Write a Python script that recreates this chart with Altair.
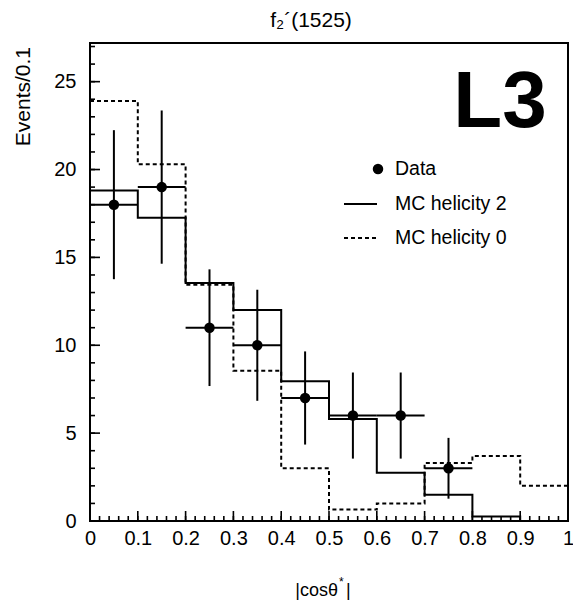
import altair as alt
import pandas as pd

# ---- data ----
bin_edges = [0.0, 0.1, 0.2, 0.3, 0.4, 0.5, 0.6, 0.7, 0.8, 0.9, 1.0]
mc_hel2 = [18.8, 17.25, 13.55, 12.0, 7.95, 5.8, 2.75, 1.5, 0.25, 0.0]
mc_hel0 = [23.9, 20.3, 13.45, 8.55, 3.0, 0.65, 1.0, 3.3, 3.7, 2.0]
data_x = [0.05, 0.15, 0.25, 0.35, 0.45, 0.55, 0.65, 0.75]
data_y = [18, 19, 11, 10, 7, 6, 6, 3]
data_err = [4.24, 4.36, 3.32, 3.16, 2.65, 2.45, 2.45, 1.73]
half_bin = 0.05

x_major = [0, 0.1, 0.2, 0.3, 0.4, 0.5, 0.6, 0.7, 0.8, 0.9, 1]
x_minor = [round(i * 0.02, 2) for i in range(51)]
y_major = [0, 5, 10, 15, 20, 25]
y_minor = list(range(0, 28))

W, H = 478, 478
FONT = "Liberation Sans"

h2 = pd.DataFrame({"x": bin_edges, "y": mc_hel2 + [mc_hel2[-1]]})
h0 = pd.DataFrame({"x": bin_edges, "y": mc_hel0 + [mc_hel0[-1]]})
pts = pd.DataFrame({"x": data_x, "y": data_y, "err": data_err})

xs = alt.Scale(domain=[0, 1], nice=False, zero=False)
ys = alt.Scale(domain=[0, 27.2], nice=False, zero=False)

ax_x = alt.Axis(values=x_major, ticks=False, domain=False, grid=False, labelPadding=7,
                format="~g", labelFontSize=20, labelFont=FONT, labelColor="black",
                labelFlush=False, title=None)
ax_y = alt.Axis(values=y_major, ticks=False, domain=False, grid=False, labelPadding=14,
                labelFontSize=20, labelFont=FONT, labelColor="black", labelFlush=False,
                title=None)

line2 = alt.Chart(h2).mark_line(interpolate="step-after", color="black", strokeWidth=2).encode(
    x=alt.X("x:Q", scale=xs, axis=ax_x),
    y=alt.Y("y:Q", scale=ys, axis=ax_y),
)
line0 = alt.Chart(h0).mark_line(interpolate="step-after", color="black", strokeWidth=2,
                                strokeDash=[4, 3]).encode(
    x=alt.X("x:Q", scale=xs, axis=ax_x),
    y=alt.Y("y:Q", scale=ys, axis=ax_y),
)

# inward axis ticks, positioned through the scales
def xticks(vals, length):
    return alt.Chart(pd.DataFrame({"t": vals})).mark_rule(color="black", strokeWidth=1.6).encode(
        x=alt.X("t:Q", scale=xs, axis=ax_x), y=alt.value(H), y2=alt.value(H - length))

def yticks(vals, length):
    return alt.Chart(pd.DataFrame({"t": vals})).mark_rule(color="black", strokeWidth=1.6).encode(
        y=alt.Y("t:Q", scale=ys, axis=ax_y), x=alt.value(0), x2=alt.value(length))

base_pts = alt.Chart(pts).transform_calculate(
    lo="datum.y - datum.err", hi="datum.y + datum.err",
    xl=f"datum.x - {half_bin}", xr=f"datum.x + {half_bin}",
)
vbar = base_pts.mark_rule(color="black", strokeWidth=2).encode(
    x=alt.X("x:Q", scale=xs, axis=ax_x),
    y=alt.Y("lo:Q", scale=ys, axis=ax_y), y2="hi:Q",
)
hbar = base_pts.mark_rule(color="black", strokeWidth=2).encode(
    x=alt.X("xl:Q", scale=xs, axis=ax_x), x2="xr:Q",
    y=alt.Y("y:Q", scale=ys, axis=ax_y),
)
dots = base_pts.mark_circle(color="black", opacity=1, size=110).encode(
    x=alt.X("x:Q", scale=xs, axis=ax_x),
    y=alt.Y("y:Q", scale=ys, axis=ax_y),
)

one = pd.DataFrame({"a": [0]})
def txt(text, x, y, size, **kw):
    return alt.Chart(one).mark_text(text=text, font=FONT, fontSize=size, color="black", **kw).encode(
        x=alt.value(x), y=alt.value(y))

title = txt("f\u2082\u00b4(1525)", 221, -22, 21, align="center", baseline="middle")
xtitle = txt("|cos\u03b8", 248, 548, 18, align="right", baseline="middle")
xstar = txt("*", 249, 539, 12, align="left", baseline="middle")
xbar = txt("|", 256, 548, 18, align="left", baseline="middle")
ytitle = txt("Events/0.1", -66, 4, 21, align="right", baseline="middle", angle=270)
l3 = txt("L3", 410, 84, 80, align="center", baseline="alphabetic", fontWeight="bold")

leg_dot = alt.Chart(one).mark_circle(color="black", opacity=1, size=110).encode(
    x=alt.value(288), y=alt.value(126))
leg_t1 = txt("Data", 305, 126, 19.5, align="left", baseline="middle")
leg_l2 = alt.Chart(one).mark_rule(color="black", strokeWidth=2).encode(
    x=alt.value(254), x2=alt.value(287), y=alt.value(161))
leg_t2 = txt("MC helicity 2", 305, 161, 19.5, align="left", baseline="middle")
leg_l0 = alt.Chart(one).mark_rule(color="black", strokeWidth=2, strokeDash=[4, 3]).encode(
    x=alt.value(254), x2=alt.value(287), y=alt.value(195))
leg_t0 = txt("MC helicity 0", 305, 195, 19.5, align="left", baseline="middle")

chart = alt.layer(
    line2, line0, xticks(x_minor, 5), xticks(x_major, 10), yticks(y_minor, 5),
    yticks(y_major, 10), vbar, hbar, dots, title, xtitle, xstar, xbar, ytitle, l3,
    leg_dot, leg_t1, leg_l2, leg_t2, leg_l0, leg_t0,
).properties(
    width=W, height=H, autosize="none",
    padding={"left": 82, "top": 35, "right": 5, "bottom": 83},
    background="white",
).configure_view(stroke="black", strokeWidth=2)

chart.save("out.html", embed_options={"renderer": "svg", "actions": False})
